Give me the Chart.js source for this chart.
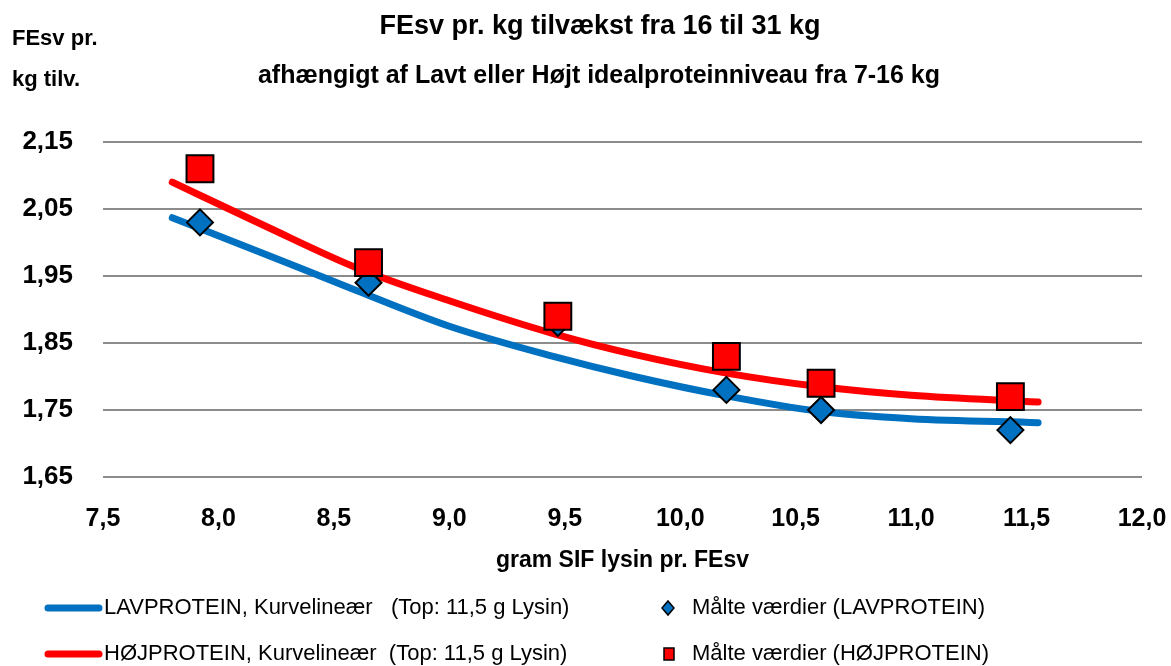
<!DOCTYPE html>
<html>
<head>
<meta charset="utf-8">
<script src="https://cdn.jsdelivr.net/npm/chart.js@4/dist/chart.umd.min.js"></script>
<style>
  html, body { margin: 0; padding: 0; background: #fff; }
  #wrap { width: 1171px; height: 666px; }
</style>
</head>
<body>
<div id="wrap"><canvas id="c" width="1171" height="666"></canvas></div>
<script>
/* ---------- data ---------- */
const TITLE = 'FEsv pr. kg tilvækst fra 16 til 31 kg';
const SUBTITLE = 'afhængigt af Lavt eller Højt idealproteinniveau fra 7-16 kg';
const Y_LABEL = ['FEsv pr.', 'kg tilv.'];
const X_LABEL = 'gram SIF lysin pr. FEsv';

const Y_TICKS = [1.65, 1.75, 1.85, 1.95, 2.05, 2.15];
const X_TICKS = [7.5, 8.0, 8.5, 9.0, 9.5, 10.0, 10.5, 11.0, 11.5, 12.0];

// målte værdier
const lysin = [7.92, 8.65, 9.47, 10.2, 10.61, 11.43];
const lavMaalt = [2.03, 1.94, 1.88, 1.78, 1.75, 1.72];
const hojMaalt = [2.11, 1.97, 1.89, 1.83, 1.79, 1.77];

// kurvelineære tendenslinjer
const kurveX = [7.8, 8.2, 8.6, 9.0, 9.45, 9.8, 10.2, 10.6, 11.0, 11.55];
const lavKurve = [2.037, 1.983, 1.928, 1.875, 1.830, 1.800, 1.771, 1.748, 1.737, 1.731];
const hojKurve = [2.090, 2.025, 1.962, 1.913, 1.864, 1.833, 1.805, 1.785, 1.772, 1.762];

const LEGEND = [
    'LAVPROTEIN, Kurvelineær   (Top: 11,5 g Lysin)',
    'HØJPROTEIN, Kurvelineær  (Top: 11,5 g Lysin)',
    'Målte værdier (LAVPROTEIN)',
    'Målte værdier (HØJPROTEIN)'
];

const BLUE = '#0070c0';
const RED = '#ff0000';
const GRID = '#8c8c8c';
const FONT = "'Liberation Sans', Arial, sans-serif";

const pts = (xs, ys) => xs.map((x, i) => ({ x, y: ys[i] }));
const comma = (v, d) => v.toFixed(d).replace('.', ',');

/* ---------- titler, y-label og forklaring ---------- */
const extras = {
    id: 'extras',
    afterDraw(chart) {
        const ctx = chart.ctx;
        ctx.save();
        ctx.fillStyle = '#000';
        ctx.textBaseline = 'middle';

        ctx.textAlign = 'center';
        ctx.font = `bold 27px ${FONT}`;
        ctx.fillText(TITLE, 600, 27);
        ctx.font = `bold 25px ${FONT}`;
        ctx.fillText(SUBTITLE, 599, 76);

        ctx.textAlign = 'left';
        ctx.font = `bold 22px ${FONT}`;
        ctx.fillText(Y_LABEL[0], 12, 39);
        ctx.fillText(Y_LABEL[1], 12, 80);

        /* forklaring */
        ctx.font = `22px ${FONT}`;
        const rows = [608, 654];
        [BLUE, RED].forEach((c, i) => {
            ctx.strokeStyle = c;
            ctx.lineWidth = 7;
            ctx.lineCap = 'round';
            ctx.beginPath();
            ctx.moveTo(48, rows[i]);
            ctx.lineTo(99, rows[i]);
            ctx.stroke();
            ctx.fillText(LEGEND[i], 104, rows[i]);
        });
        ctx.lineWidth = 1.5;
        ctx.strokeStyle = '#000';
        // diamant
        ctx.fillStyle = BLUE;
        ctx.beginPath();
        ctx.moveTo(668, rows[0] - 7);
        ctx.lineTo(674, rows[0]);
        ctx.lineTo(668, rows[0] + 7);
        ctx.lineTo(662, rows[0]);
        ctx.closePath();
        ctx.fill(); ctx.stroke();
        // firkant
        ctx.fillStyle = RED;
        ctx.fillRect(664, rows[1] - 6, 10, 12);
        ctx.strokeRect(664, rows[1] - 6, 10, 12);

        ctx.fillStyle = '#000';
        ctx.fillText(LEGEND[2], 692, rows[0]);
        ctx.fillText(LEGEND[3], 692, rows[1]);
        ctx.restore();
    }
};

new Chart(document.getElementById('c').getContext('2d'), {
    type: 'scatter',
    data: {
        datasets: [
            {
                label: LEGEND[0],
                data: pts(kurveX, lavKurve),
                showLine: true,
                borderColor: BLUE,
                borderWidth: 7,
                borderCapStyle: 'round',
                cubicInterpolationMode: 'monotone',
                pointRadius: 0,
                order: 3
            },
            {
                label: LEGEND[1],
                data: pts(kurveX, hojKurve),
                showLine: true,
                borderColor: RED,
                borderWidth: 7,
                borderCapStyle: 'round',
                cubicInterpolationMode: 'monotone',
                pointRadius: 0,
                order: 2
            },
            {
                label: LEGEND[2],
                data: pts(lysin, lavMaalt),
                pointStyle: 'rectRot',
                pointRadius: 13,
                backgroundColor: BLUE,
                borderColor: '#000',
                borderWidth: 2,
                order: 1
            },
            {
                label: LEGEND[3],
                data: pts(lysin, hojMaalt),
                pointStyle: 'rect',
                pointRadius: 19,
                backgroundColor: RED,
                borderColor: '#000',
                borderWidth: 2,
                order: 0
            }
        ]
    },
    options: {
        responsive: false,
        animation: false,
        events: [],
        layout: { padding: { top: 142, right: 0, bottom: 86, left: 0 } },
        plugins: {
            legend: { display: false },
            tooltip: { enabled: false }
        },
        scales: {
            x: {
                type: 'linear',
                min: 7.5,
                max: 12,
                afterBuildTicks: s => { s.ticks = X_TICKS.map(v => ({ value: v })); },
                afterFit: s => { s.height = 103; s.paddingRight = 29; },
                grid: { display: false, drawTicks: false },
                border: { display: false },
                ticks: {
                    padding: 27,
                    color: '#000',
                    font: { family: FONT, size: 25, weight: 'bold' },
                    callback: v => comma(v, 1)
                },
                title: {
                    display: true,
                    text: X_LABEL,
                    color: '#000',
                    font: { family: FONT, size: 23, weight: 'bold' },
                    padding: { top: 0, bottom: 6 }
                }
            },
            y: {
                type: 'linear',
                min: 1.65,
                max: 2.15,
                afterBuildTicks: s => { s.ticks = Y_TICKS.map(v => ({ value: v })); },
                afterFit: s => { s.width = 103; },
                grid: { color: GRID, lineWidth: 2, drawTicks: false },
                border: { display: false },
                ticks: {
                    padding: 30,
                    color: '#000',
                    font: { family: FONT, size: 26, weight: 'bold' },
                    callback: v => comma(v, 2)
                }
            }
        }
    },
    plugins: [extras]
});
</script>
</body>
</html>
